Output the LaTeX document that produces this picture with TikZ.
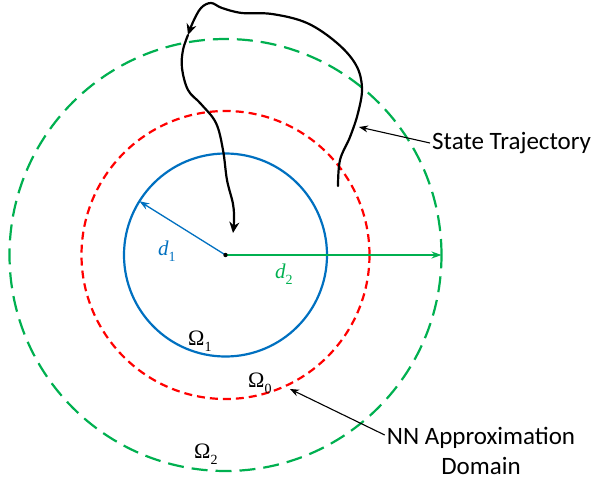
\documentclass[tikz,border=0pt]{standalone}
\usepackage{fontspec}
\setmainfont{Liberation Serif}
\newfontfamily\labfont{Carlito}
\usetikzlibrary{arrows.meta}
\definecolor{cblue}{HTML}{0070C0}
\definecolor{cgreen}{HTML}{00B050}
\definecolor{cred}{HTML}{FF0000}
\newcommand{\omlab}[1]{\fontsize{22}{22}\selectfont Ω\raisebox{-0.28em}{\fontsize{14}{14}\selectfont #1}}
\newcommand{\dlab}[1]{\fontsize{21}{21}\selectfont\itshape d\upshape\raisebox{-0.3em}{\fontsize{14}{14}\selectfont #1}}
\tikzset{
  ring/.style={circle, draw, inner sep=0pt, outer sep=0pt, line width=2.2pt},
  traj/.style={line width=2.2pt, black, line cap=round, line join=round},
  trajtip/.style={-{Stealth[length=11pt,width=10pt]}},
  note/.style={font=\labfont\fontsize{25}{30}\selectfont, inner sep=2pt},
  pointer/.style={-{Stealth[length=9pt,width=7pt]}, line width=1.1pt, black},
  radius arrow/.style={-{Stealth[length=10pt,width=7pt]}, line width=1.3pt},
  mathlab/.style={anchor=base west, inner sep=0pt}
}
\begin{document}
\begin{tikzpicture}[x=1pt,y=-1pt]
\useasboundingbox (0,0) rectangle (598,483);
\coordinate (ctr) at (225.5,255);
% circles
\node[ring, cgreen, minimum size=432pt, dash pattern=on 16pt off 8pt] (c2) at (ctr) {};
\node[ring, cred, minimum size=288pt, dash pattern=on 8pt off 5pt] (c0) at (ctr) {};
\node[ring, cblue, minimum size=203pt] (c1) at (ctr) {};
% radius arrows
\draw[radius arrow, cblue] (ctr) -- (c1.148.6);
\draw[radius arrow, cgreen] (ctr) -- (c2.east);
\fill (ctr) circle (2.2pt);
% trajectory
\coordinate (t0) at (338,186);
\coordinate (tm) at (188,35);
\coordinate (t1) at (233,233);
\draw[traj, trajtip] plot[smooth, tension=0.6] coordinates {(338,186) (340,160) (350,137) (358,113) (362,88) (356,65) (337,43) (307,23) (272,14) (242,13) (222,8) (211,3) (201,8) (193,22) (188,35)};
\draw[traj, trajtip] plot[smooth, tension=0.6] coordinates {(188,35) (183,50) (182,68) (188,90) (201,104) (216,123) (223,150) (227,180) (233,204) (234,220) (233,233)};
% labels
\node[mathlab, cblue] (d1) at (158,255) {\dlab{1}};
\node[mathlab, cgreen] (d2) at (275,278) {\dlab{2}};
\node[mathlab] (o1) at (188,345) {\omlab{1}};
\node[mathlab] (o0) at (248,387) {\omlab{0}};
\node[mathlab] (o2) at (194,458) {\omlab{2}};
% notes
\node[note, anchor=west] (st) at (430,143) {State Trajectory};
\coordinate (stp) at (359,127);
\draw[pointer] (st.west) -- (stp);
\node[note, align=center] (nn) at (481,451) {NN Approximation\\Domain};
\coordinate (nnp) at (290,389);
\draw[pointer] ([yshift=16pt]nn.west) -- (nnp);
\end{tikzpicture}
\end{document}
